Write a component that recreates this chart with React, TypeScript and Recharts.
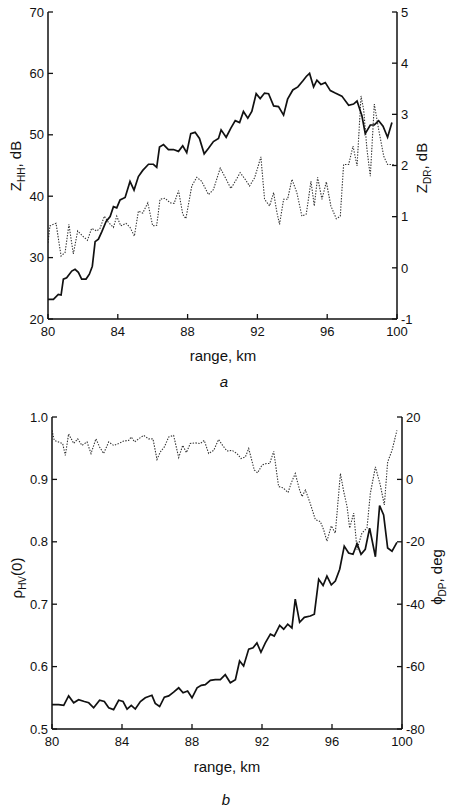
import React from 'react';
import { LineChart, Line, XAxis, YAxis } from 'recharts';

// panel a: reflectivity and differential reflectivity along the range
const zhhKm = [
  80.0, 80.31, 80.59, 80.75, 80.88, 81.07, 81.36, 81.55, 81.74, 81.93, 82.18, 82.37, 82.54, 82.7, 82.89,
  83.08, 83.33, 83.56, 83.75, 83.94, 84.13, 84.42, 84.7, 84.93, 85.18, 85.43, 85.76, 86.04, 86.23, 86.39,
  86.62, 86.9, 87.19, 87.48, 87.72, 87.95, 88.18, 88.43, 88.68, 88.95, 89.2, 89.48, 89.77, 89.92, 90.21,
  90.48, 90.73, 90.98, 91.2, 91.45, 91.68, 91.93, 92.16, 92.41, 92.64, 92.93, 93.21, 93.5, 93.73, 94.03,
  94.32, 94.61, 94.8, 94.99, 95.22, 95.41, 95.64, 95.89, 96.18, 96.46, 96.84, 97.23, 97.51, 97.71, 97.99,
  98.18, 98.47, 98.7, 98.95, 99.2, 99.46, 99.71,
];
const zhhDb = [
  23.2, 23.2, 24.0, 23.9, 26.5, 26.7, 27.8, 28.1, 27.6, 26.5, 26.5, 27.3, 28.6, 32.6, 33.0,
  34.2, 35.9, 36.7, 38.3, 38.1, 39.4, 39.8, 42.4, 41.0, 43.2, 44.2, 45.2, 45.2, 44.7, 48.0,
  48.4, 47.6, 47.6, 47.3, 48.2, 47.1, 50.2, 50.4, 49.4, 46.9, 47.8, 48.9, 49.4, 50.8, 49.6,
  51.1, 52.3, 52.0, 53.8, 52.7, 53.8, 56.7, 55.9, 56.8, 56.7, 54.7, 54.6, 53.2, 55.8, 57.3,
  57.8, 58.8, 59.5, 60.0, 57.8, 58.9, 58.2, 58.5, 57.2, 56.8, 56.3, 54.8, 55.0, 55.5, 53.1,
  50.2, 51.6, 51.6, 52.3, 51.4, 49.6, 52.0,
];

const zdrKm = [
  80.0, 80.11, 80.31, 80.46, 80.75, 80.98, 81.2, 81.45, 81.7, 81.99, 82.26, 82.5, 82.79, 82.98, 83.23,
  83.46, 83.75, 83.94, 84.17, 84.47, 84.7, 84.95, 85.18, 85.43, 85.72, 86.0, 86.23, 86.42, 86.71, 87.0,
  87.23, 87.48, 87.72, 87.9, 88.24, 88.53, 88.81, 89.2, 89.48, 89.87, 90.21, 90.48, 90.73, 91.01, 91.3,
  91.55, 91.84, 92.01, 92.2, 92.41, 92.7, 92.93, 93.12, 93.27, 93.5, 93.73, 93.98, 94.26, 94.55, 94.8,
  95.07, 95.26, 95.45, 95.7, 95.95, 96.21, 96.52, 96.75, 96.94, 97.23, 97.48, 97.71, 97.94, 98.09, 98.28,
  98.47, 98.7, 98.95, 99.24, 99.46, 99.81,
];
const zdrDb = [
  0.49, 0.82, 0.85, 0.87, 0.23, 0.3, 0.85, 0.27, 0.72, 0.62, 0.54, 0.77, 0.72, 0.77, 1.01,
  0.89, 0.79, 1.01, 0.82, 0.87, 0.79, 0.62, 1.11, 1.07, 1.27, 0.82, 0.83, 1.34, 1.36, 1.27,
  1.26, 1.51, 1.05, 0.96, 1.6, 1.77, 1.69, 1.43, 1.53, 1.95, 1.73, 1.55, 1.69, 1.86, 1.73,
  1.6, 1.76, 1.95, 2.17, 1.34, 1.21, 1.47, 1.08, 0.85, 1.34, 1.34, 1.73, 1.47, 1.01, 1.05,
  1.69, 1.21, 1.77, 1.34, 1.68, 1.21, 0.96, 1.01, 2.02, 2.02, 2.38, 1.99, 3.36, 3.09, 2.31,
  1.79, 3.2, 2.7, 2.18, 2.02, 2.02,
];

// panel b: copolar correlation and differential phase
const rhoKm = [
  80.0, 80.38, 80.67, 80.95, 81.24, 81.52, 81.85, 82.1, 82.38, 82.72, 82.99, 83.24, 83.52, 83.81, 84.06,
  84.29, 84.53, 84.76, 85.05, 85.33, 85.71, 85.9, 86.15, 86.42, 86.67, 86.95, 87.24, 87.49, 87.75, 88.0,
  88.29, 88.53, 88.76, 89.05, 89.33, 89.62, 89.9, 90.19, 90.48, 90.72, 90.95, 91.24, 91.49, 91.71, 91.94,
  92.19, 92.48, 92.7, 93.01, 93.24, 93.47, 93.71, 93.9, 94.15, 94.42, 94.76, 94.99, 95.24, 95.49, 95.71,
  95.96, 96.19, 96.44, 96.7, 96.95, 97.2, 97.43, 97.66, 97.9, 98.15, 98.48, 98.72, 98.95, 99.18, 99.43,
  99.71,
];
const rhoHv = [
  0.539, 0.539, 0.538, 0.553, 0.542, 0.547, 0.544, 0.542, 0.534, 0.546, 0.544, 0.534, 0.531, 0.546, 0.544,
  0.532, 0.538, 0.532, 0.544, 0.55, 0.554, 0.541, 0.536, 0.551, 0.553, 0.559, 0.566, 0.558, 0.561, 0.55,
  0.566, 0.57, 0.571, 0.578, 0.579, 0.579, 0.587, 0.574, 0.579, 0.609, 0.601, 0.628, 0.63, 0.638, 0.623,
  0.638, 0.652, 0.649, 0.666, 0.66, 0.668, 0.662, 0.708, 0.671, 0.679, 0.681, 0.684, 0.74, 0.73, 0.745,
  0.731, 0.737, 0.756, 0.793, 0.782, 0.78, 0.797, 0.78, 0.788, 0.822, 0.776, 0.858, 0.843, 0.79, 0.785,
  0.799,
];

const phiKm = [
  80.0, 80.13, 80.38, 80.61, 80.76, 80.95, 81.24, 81.47, 81.71, 82.0, 82.23, 82.51, 82.72, 82.95, 83.24,
  83.52, 83.81, 84.1, 84.38, 84.53, 84.72, 84.95, 85.24, 85.52, 85.77, 86.0, 86.19, 86.42, 86.67, 86.95,
  87.24, 87.47, 87.68, 87.9, 88.19, 88.48, 88.7, 88.95, 89.24, 89.52, 89.75, 90.0, 90.29, 90.57, 90.8,
  91.05, 91.24, 91.56, 91.75, 92.0, 92.25, 92.44, 92.67, 92.95, 93.2, 93.49, 93.66, 93.9, 94.15, 94.29,
  94.48, 94.72, 95.05, 95.33, 95.52, 95.71, 95.96, 96.19, 96.48, 96.67, 96.86, 97.01, 97.24, 97.43, 97.71,
  98.0, 98.19, 98.48, 98.76, 98.99, 99.18, 99.43, 99.71,
];
const phiDeg = [
  15.7, 12.5, 12.0, 11.5, 7.7, 14.6, 11.5, 13.0, 10.9, 12.0, 8.3, 13.0, 10.4, 8.3, 12.0,
  10.9, 11.5, 12.3, 12.5, 13.6, 12.0, 13.0, 14.1, 13.0, 13.0, 6.4, 8.8, 10.4, 13.6, 14.1,
  7.0, 10.9, 8.6, 11.5, 11.7, 11.5, 12.5, 8.3, 9.3, 12.8, 10.9, 9.1, 9.3, 8.3, 6.7,
  7.2, 9.9, 3.0, 2.1, 4.6, 5.1, 5.1, 9.0, -2.3, -2.7, -4.2, -1.3, 1.9, -3.4, -5.5,
  -3.4, -7.1, -12.9, -13.5, -16.1, -19.8, -14.9, -17.2, 1.9, -3.9, -8.7, -15.6, -10.8, -22.5, -17.2,
  -15.6, -4.5, 4.0, -1.8, -8.2, 5.6, 9.3, 15.7,
];

const rangeTicks = [80, 84, 88, 92, 96, 100];
const zhhTicks = [20, 30, 40, 50, 60, 70];
const zdrTicks = [-1, 0, 1, 2, 3, 4, 5];
const rhoTicks = [0.5, 0.6, 0.7, 0.8, 0.9, 1.0];
const phiTicks = [-80, -60, -40, -20, 0, 20];

const toRows = (km: number[], vals: number[]) => km.map((k, i) => ({ km: k, v: vals[i] }));

const INK = '#111';
const FONT = '"Liberation Sans", Arial, sans-serif';
const TICK_LEN = 5;
const MARGIN = 4;

// ticks are drawn pointing into the plot, so tickLine is off and the mark is part of the tick
function LeftTick({ x, y, payload, digits = 0 }: any) {
  return (
    <g>
      <line x1={x + MARGIN} x2={x + MARGIN + TICK_LEN} y1={y} y2={y} stroke={INK} strokeWidth={1.3} />
      <text x={x} y={y} dy="0.36em" textAnchor="end" fontSize={13} fontFamily={FONT} fill={INK}>
        {Number(payload.value).toFixed(digits)}
      </text>
    </g>
  );
}

function RightTick({ x, y, payload }: any) {
  return (
    <g>
      <line x1={x - MARGIN} x2={x - MARGIN - TICK_LEN} y1={y} y2={y} stroke={INK} strokeWidth={1.3} />
      <text x={x} y={y} dy="0.36em" textAnchor="start" fontSize={13} fontFamily={FONT} fill={INK}>
        {payload.value}
      </text>
    </g>
  );
}

function BottomTick({ x, y, payload }: any) {
  const base = y - 8;
  return (
    <g>
      <line x1={x} x2={x} y1={base} y2={base - TICK_LEN} stroke={INK} strokeWidth={1.3} />
      <text x={x} y={y} dy="0.71em" textAnchor="middle" fontSize={13} fontFamily={FONT} fill={INK}>
        {payload.value}
      </text>
    </g>
  );
}

const axisLine = { stroke: INK, strokeWidth: 1.5 };

function Panel({
  top,
  leftWidth,
  rightWidth,
  plotHeight,
  left,
  right,
}: {
  top: number;
  leftWidth: number;
  rightWidth: number;
  plotHeight: number;
  left: { rows: any[]; domain: [number, number]; ticks: number[]; digits: number };
  right: { rows: any[]; domain: [number, number]; ticks: number[] };
}) {
  return (
    <div style={{ position: 'absolute', left: 0, top }}>
      <LineChart width={450} height={12 + plotHeight + 26} margin={{ top: 12, right: 0, bottom: 0, left: 0 }}>
        <XAxis
          type="number"
          dataKey="km"
          domain={[80, 100]}
          ticks={rangeTicks}
          allowDataOverflow
          height={26}
          tickSize={0}
          tickMargin={8}
          tickLine={false}
          axisLine={axisLine}
          tick={<BottomTick />}
        />
        <YAxis
          yAxisId="left"
          dataKey="v"
          domain={left.domain}
          ticks={left.ticks}
          allowDataOverflow
          width={leftWidth}
          tickSize={0}
          tickMargin={MARGIN}
          tickLine={false}
          axisLine={axisLine}
          tick={<LeftTick digits={left.digits} />}
        />
        <YAxis
          yAxisId="right"
          orientation="right"
          dataKey="v"
          domain={right.domain}
          ticks={right.ticks}
          allowDataOverflow
          width={rightWidth}
          tickSize={0}
          tickMargin={MARGIN}
          tickLine={false}
          axisLine={axisLine}
          tick={<RightTick />}
        />
        <Line
          yAxisId="right"
          data={right.rows}
          dataKey="v"
          type="linear"
          stroke="#333"
          strokeWidth={1.1}
          strokeDasharray="1.4 1.4"
          dot={false}
          isAnimationActive={false}
        />
        <Line
          yAxisId="left"
          data={left.rows}
          dataKey="v"
          type="linear"
          stroke={INK}
          strokeWidth={1.7}
          dot={false}
          isAnimationActive={false}
        />
      </LineChart>
    </div>
  );
}

export default function App() {
  const sub = { fontSize: 10 };
  return (
    <div style={{ position: 'absolute', left: 0, top: 0, width: 450, height: 811, background: '#fff' }}>
      <Panel
        top={0}
        leftWidth={48}
        rightWidth={53}
        plotHeight={307}
        left={{ rows: toRows(zhhKm, zhhDb), domain: [20, 70], ticks: zhhTicks, digits: 0 }}
        right={{ rows: toRows(zdrKm, zdrDb), domain: [-1, 5], ticks: zdrTicks }}
      />
      <Panel
        top={405}
        leftWidth={52}
        rightWidth={48}
        plotHeight={312}
        left={{ rows: toRows(rhoKm, rhoHv), domain: [0.5, 1.0], ticks: rhoTicks, digits: 1 }}
        right={{ rows: toRows(phiKm, phiDeg), domain: [-80, 20], ticks: phiTicks }}
      />
      <svg
        width={450}
        height={811}
        style={{ position: 'absolute', left: 0, top: 0, pointerEvents: 'none' }}
        fontFamily={FONT}
        fill={INK}
      >
        <text x={21} y={166} fontSize={15} textAnchor="middle" transform="rotate(-90 21 166)">
          Z<tspan dy={4} style={sub}>HH</tspan>
          <tspan dy={-4}>, dB</tspan>
        </text>
        <text x={427} y={168} fontSize={15} textAnchor="middle" transform="rotate(-90 427 168)">
          Z<tspan dy={4} style={sub}>DR</tspan>
          <tspan dy={-4}>, dB</tspan>
        </text>
        <text x={223} y={361} fontSize={15} textAnchor="middle">range, km</text>
        <text x={224} y={387} fontSize={15} textAnchor="middle" fontStyle="italic">a</text>

        <text x={22} y={578} fontSize={15} textAnchor="middle" transform="rotate(-90 22 578)">
          ρ<tspan dy={4} style={sub}>HV</tspan>
          <tspan dy={-4}>(0)</tspan>
        </text>
        <text x={442} y={577} fontSize={15} textAnchor="middle" transform="rotate(-90 442 577)">
          ϕ<tspan dy={4} style={sub}>DP</tspan>
          <tspan dy={-4}>, deg</tspan>
        </text>
        <text x={227} y={772} fontSize={15} textAnchor="middle">range, km</text>
        <text x={226} y={805} fontSize={15} textAnchor="middle" fontStyle="italic">b</text>
      </svg>
    </div>
  );
}
